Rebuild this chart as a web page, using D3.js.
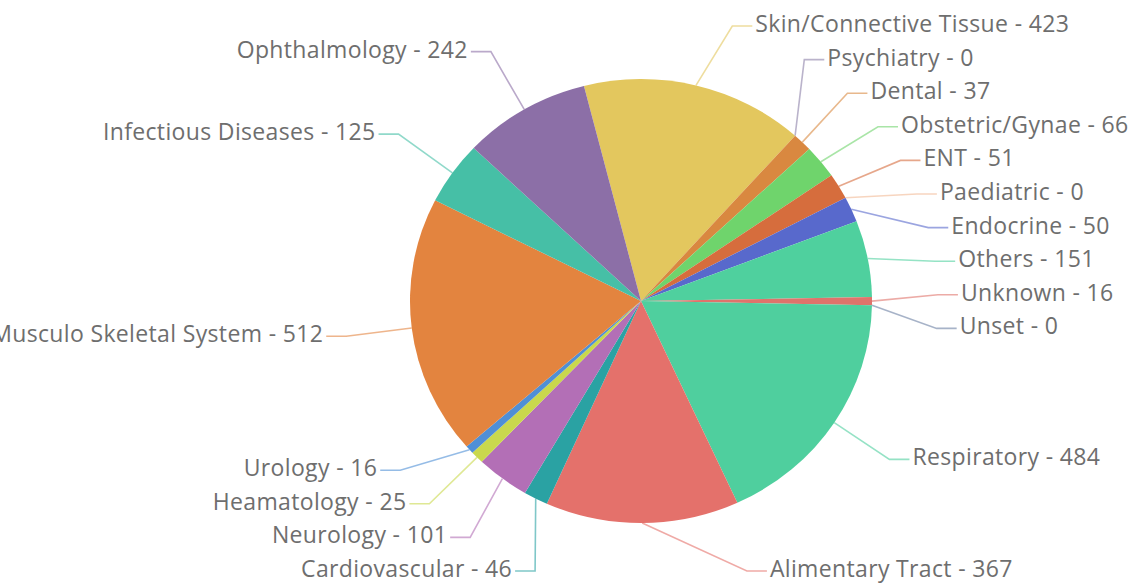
<!DOCTYPE html>
<html>
<head>
<meta charset="utf-8">
<script src="https://cdn.jsdelivr.net/npm/d3@7"></script>
<style>
  html, body { margin: 0; padding: 0; background: #ffffff; }
  svg { display: block; }
  .lbl { font-family: "Open Sans", "Noto Sans", sans-serif; font-size: 23px; letter-spacing: 0.35px; fill: #6e6e6e; }
</style>
</head>
<body>
<svg id="chart" width="1134" height="584"></svg>
<script>
// Patient counts by specialty, listed clockwise
const categories = [
  "Skin/Connective Tissue", "Psychiatry", "Dental", "Obstetric/Gynae", "ENT",
  "Paediatric", "Endocrine", "Others", "Unknown", "Unset", "Respiratory",
  "Alimentary Tract", "Cardiovascular", "Neurology", "Heamatology", "Urology",
  "Musculo Skeletal System", "Infectious Diseases", "Ophthalmology"
];
const counts = [423, 0, 37, 66, 51, 0, 50, 151, 16, 0, 484, 367, 46, 101, 25, 16, 512, 125, 242];
const sliceColors = [
  "#e3c75e", "#8c80a8", "#d98840", "#6fd46c", "#d66d3d",
  "#f1b995", "#5869cc", "#4fd09e", "#df736b", "#6d80a3", "#4fcf9e",
  "#e4716b", "#2aa2a3", "#b36fb6", "#c9d84d", "#4f8fd6",
  "#e3843f", "#46bfa6", "#8c6fa7"
];

const data = categories.map((name, i) => ({ name, value: counts[i], color: sliceColors[i] }));

const svg = d3.select("#chart");
const cx = 641, cy = 301;
const rx = 231, ry = 222;  // the pie is drawn slightly wider than tall
const ringX = 297, ringY = 289;  // ellipse on which the leader lines bend
const tail = 20;           // horizontal leader segment
const rowGap = 33.6;       // vertical spacing between stacked labels
const yMin = 26, yMax = 571;
const start = -0.2496;

const pie = d3.pie().sort(null).value(d => d.value)
  .startAngle(start).endAngle(start + 2 * Math.PI);
const arc = d3.arc().innerRadius(0).outerRadius(rx);
const arcs = pie(data);

const g = svg.append("g").attr("transform", `translate(${cx},${cy}) scale(1,${ry / rx})`);
g.selectAll("path.slice").data(arcs).join("path")
  .attr("class", "slice")
  .attr("d", arc)
  .attr("fill", d => d.data.color);

// Label placement: start on the outer ellipse, then push apart vertically
const labels = arcs.map(a => {
  const mid = (a.startAngle + a.endAngle) / 2;
  const side = Math.sin(mid) >= 0 ? 1 : -1;
  return {
    arc: a, mid, side,
    ex: Math.sin(mid) * rx, ey: -Math.cos(mid) * ry,
    y0: cy - Math.cos(mid) * ringY
  };
});

function spread(items) {
  items.sort((a, b) => a.y0 - b.y0);
  let clusters = items.map(d => ({ items: [d] }));
  const place = c => {
    const n = c.items.length;
    const mean = d3.mean(c.items, d => d.y0);
    let top = mean - (n - 1) * rowGap / 2;
    top = Math.min(top, yMax - (n - 1) * rowGap);
    top = Math.max(top, yMin);
    c.top = top;
  };
  let changed = true;
  while (changed) {
    changed = false;
    clusters.forEach(place);
    for (let i = 0; i < clusters.length - 1; i++) {
      const a = clusters[i], b = clusters[i + 1];
      if (a.top + a.items.length * rowGap > b.top + 0.01) {
        clusters.splice(i, 2, { items: a.items.concat(b.items) });
        changed = true;
        break;
      }
    }
  }
  clusters.forEach(c => c.items.forEach((d, k) => { d.y = c.top + k * rowGap; }));
}
spread(labels.filter(d => d.side > 0));
spread(labels.filter(d => d.side < 0));

labels.forEach(d => {
  const t = (d.y - cy) / ringY;
  d.bx = cx + d.side * ringX * Math.sqrt(Math.max(0, 1 - t * t));
  d.tx = d.bx + d.side * tail;
});

const line = d3.line();
svg.append("g").selectAll("path").data(labels).join("path")
  .attr("d", d => line([[cx + d.ex, cy + d.ey], [d.bx, d.y], [d.tx, d.y]]))
  .attr("fill", "none")
  .attr("stroke", d => d.arc.data.color)
  .attr("stroke-opacity", 0.6)
  .attr("stroke-width", 1.6);

svg.append("g").selectAll("text").data(labels).join("text")
  .attr("class", "lbl")
  .attr("x", d => d.tx + d.side * 3)
  .attr("y", d => d.y)
  .attr("dy", "0.26em")
  .attr("text-anchor", d => d.side > 0 ? "start" : "end")
  .text(d => `${d.arc.data.name} - ${d.arc.data.value}`);
</script>
</body>
</html>
